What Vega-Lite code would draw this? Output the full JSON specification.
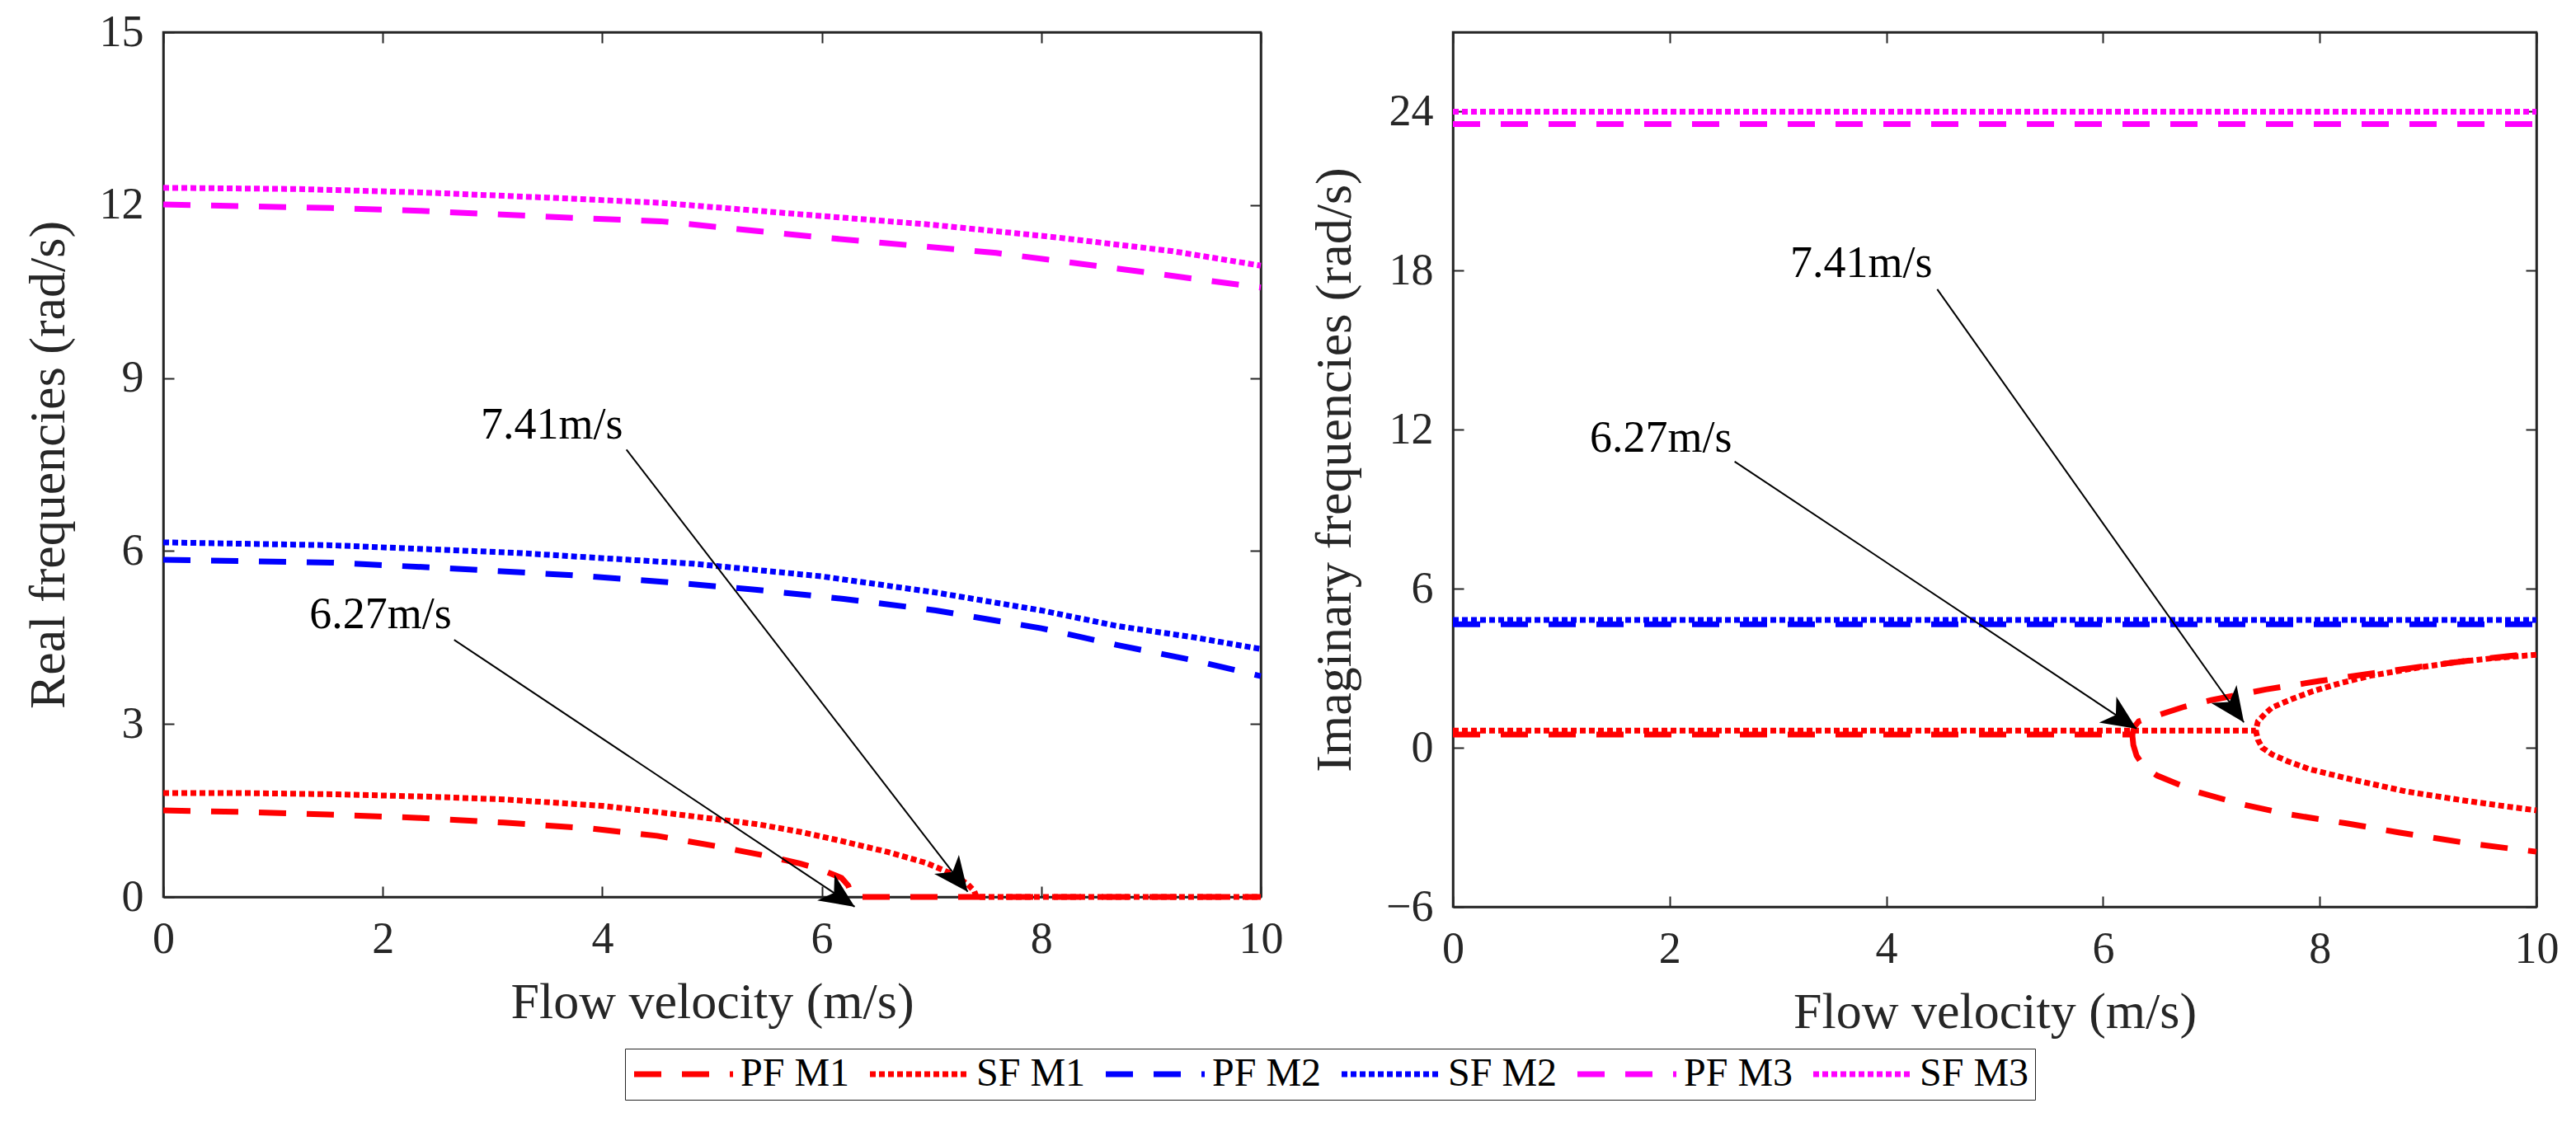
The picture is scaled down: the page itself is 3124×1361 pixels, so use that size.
{
  "$schema": "https://vega.github.io/schema/vega-lite/v6.json",
  "background": "white",
  "padding": {"left": 25, "top": 10, "right": 5, "bottom": 5},
  "spacing": 28,
  "datasets": {
    "real": [
      {"series": "PF M1", "branch": "a", "v": 0, "f": 1.5},
      {"series": "PF M1", "branch": "a", "v": 0.82, "f": 1.47},
      {"series": "PF M1", "branch": "a", "v": 1.5, "f": 1.43},
      {"series": "PF M1", "branch": "a", "v": 2.35, "f": 1.37},
      {"series": "PF M1", "branch": "a", "v": 3.1, "f": 1.29},
      {"series": "PF M1", "branch": "a", "v": 3.88, "f": 1.19},
      {"series": "PF M1", "branch": "a", "v": 4.5, "f": 1.06},
      {"series": "PF M1", "branch": "a", "v": 5.04, "f": 0.88},
      {"series": "PF M1", "branch": "a", "v": 5.5, "f": 0.71},
      {"series": "PF M1", "branch": "a", "v": 5.8, "f": 0.58},
      {"series": "PF M1", "branch": "a", "v": 6.0, "f": 0.47},
      {"series": "PF M1", "branch": "a", "v": 6.18, "f": 0.33},
      {"series": "PF M1", "branch": "a", "v": 6.24, "f": 0.2},
      {"series": "PF M1", "branch": "a", "v": 6.26, "f": 0.1},
      {"series": "PF M1", "branch": "a", "v": 6.27, "f": 0},
      {"series": "PF M1", "branch": "a", "v": 10, "f": 0},
      {"series": "SF M1", "branch": "a", "v": 0, "f": 1.8},
      {"series": "SF M1", "branch": "a", "v": 0.8, "f": 1.8},
      {"series": "SF M1", "branch": "a", "v": 1.59, "f": 1.78},
      {"series": "SF M1", "branch": "a", "v": 2.4, "f": 1.74},
      {"series": "SF M1", "branch": "a", "v": 3.12, "f": 1.69},
      {"series": "SF M1", "branch": "a", "v": 4.0, "f": 1.58},
      {"series": "SF M1", "branch": "a", "v": 4.65, "f": 1.44},
      {"series": "SF M1", "branch": "a", "v": 5.42, "f": 1.26},
      {"series": "SF M1", "branch": "a", "v": 5.8, "f": 1.13},
      {"series": "SF M1", "branch": "a", "v": 6.18, "f": 0.97},
      {"series": "SF M1", "branch": "a", "v": 6.6, "f": 0.78},
      {"series": "SF M1", "branch": "a", "v": 6.95, "f": 0.59},
      {"series": "SF M1", "branch": "a", "v": 7.2, "f": 0.39},
      {"series": "SF M1", "branch": "a", "v": 7.33, "f": 0.22},
      {"series": "SF M1", "branch": "a", "v": 7.39, "f": 0.1},
      {"series": "SF M1", "branch": "a", "v": 7.41, "f": 0},
      {"series": "SF M1", "branch": "a", "v": 10, "f": 0},
      {"series": "PF M2", "branch": "a", "v": 0, "f": 5.85},
      {"series": "PF M2", "branch": "a", "v": 1.53, "f": 5.8},
      {"series": "PF M2", "branch": "a", "v": 2.6, "f": 5.7},
      {"series": "PF M2", "branch": "a", "v": 3.73, "f": 5.58},
      {"series": "PF M2", "branch": "a", "v": 4.6, "f": 5.46},
      {"series": "PF M2", "branch": "a", "v": 5.39, "f": 5.33},
      {"series": "PF M2", "branch": "a", "v": 6.2, "f": 5.17},
      {"series": "PF M2", "branch": "a", "v": 7.04, "f": 4.97},
      {"series": "PF M2", "branch": "a", "v": 8.0, "f": 4.66},
      {"series": "PF M2", "branch": "a", "v": 8.69, "f": 4.37},
      {"series": "PF M2", "branch": "a", "v": 9.4, "f": 4.1},
      {"series": "PF M2", "branch": "a", "v": 10, "f": 3.83},
      {"series": "SF M2", "branch": "a", "v": 0, "f": 6.15},
      {"series": "SF M2", "branch": "a", "v": 1.53, "f": 6.1},
      {"series": "SF M2", "branch": "a", "v": 3.2, "f": 5.97},
      {"series": "SF M2", "branch": "a", "v": 4.83, "f": 5.78},
      {"series": "SF M2", "branch": "a", "v": 6.0, "f": 5.56},
      {"series": "SF M2", "branch": "a", "v": 7.04, "f": 5.28},
      {"series": "SF M2", "branch": "a", "v": 8.0, "f": 4.97},
      {"series": "SF M2", "branch": "a", "v": 8.69, "f": 4.7},
      {"series": "SF M2", "branch": "a", "v": 9.4, "f": 4.5},
      {"series": "SF M2", "branch": "a", "v": 10, "f": 4.3},
      {"series": "PF M3", "branch": "a", "v": 0, "f": 12.01},
      {"series": "PF M3", "branch": "a", "v": 1.53, "f": 11.95},
      {"series": "PF M3", "branch": "a", "v": 2.35, "f": 11.9},
      {"series": "PF M3", "branch": "a", "v": 3.73, "f": 11.78},
      {"series": "PF M3", "branch": "a", "v": 4.53, "f": 11.72},
      {"series": "PF M3", "branch": "a", "v": 5.94, "f": 11.45},
      {"series": "PF M3", "branch": "a", "v": 7.59, "f": 11.17},
      {"series": "PF M3", "branch": "a", "v": 8.69, "f": 10.9},
      {"series": "PF M3", "branch": "a", "v": 10, "f": 10.57},
      {"series": "SF M3", "branch": "a", "v": 0, "f": 12.3},
      {"series": "SF M3", "branch": "a", "v": 1.2, "f": 12.28},
      {"series": "SF M3", "branch": "a", "v": 2.35, "f": 12.22},
      {"series": "SF M3", "branch": "a", "v": 3.5, "f": 12.13},
      {"series": "SF M3", "branch": "a", "v": 4.53, "f": 12.04},
      {"series": "SF M3", "branch": "a", "v": 5.94, "f": 11.82},
      {"series": "SF M3", "branch": "a", "v": 7.0, "f": 11.66},
      {"series": "SF M3", "branch": "a", "v": 8.14, "f": 11.44},
      {"series": "SF M3", "branch": "a", "v": 9.2, "f": 11.2},
      {"series": "SF M3", "branch": "a", "v": 10, "f": 10.95}
    ],
    "imag": [
      {"series": "PF M1", "branch": "a", "v": 0, "f": 0.5},
      {"series": "PF M1", "branch": "a", "v": 6.27, "f": 0.5},
      {"series": "PF M1", "branch": "a", "v": 6.29, "f": 0.8},
      {"series": "PF M1", "branch": "a", "v": 6.33, "f": 1.0},
      {"series": "PF M1", "branch": "a", "v": 6.4, "f": 1.1},
      {"series": "PF M1", "branch": "a", "v": 6.5, "f": 1.22},
      {"series": "PF M1", "branch": "a", "v": 6.75, "f": 1.55},
      {"series": "PF M1", "branch": "a", "v": 7.0, "f": 1.8},
      {"series": "PF M1", "branch": "a", "v": 7.5, "f": 2.2},
      {"series": "PF M1", "branch": "a", "v": 8.0, "f": 2.52},
      {"series": "PF M1", "branch": "a", "v": 8.5, "f": 2.82},
      {"series": "PF M1", "branch": "a", "v": 9.0, "f": 3.1},
      {"series": "PF M1", "branch": "a", "v": 9.5, "f": 3.35},
      {"series": "PF M1", "branch": "a", "v": 10, "f": 3.57},
      {"series": "PF M1", "branch": "b", "v": 6.27, "f": 0.5},
      {"series": "PF M1", "branch": "b", "v": 6.28, "f": 0.1},
      {"series": "PF M1", "branch": "b", "v": 6.31, "f": -0.3},
      {"series": "PF M1", "branch": "b", "v": 6.38, "f": -0.71},
      {"series": "PF M1", "branch": "b", "v": 6.5, "f": -1.05},
      {"series": "PF M1", "branch": "b", "v": 6.86, "f": -1.65},
      {"series": "PF M1", "branch": "b", "v": 7.25, "f": -2.1},
      {"series": "PF M1", "branch": "b", "v": 7.7, "f": -2.5},
      {"series": "PF M1", "branch": "b", "v": 8.26, "f": -2.86},
      {"series": "PF M1", "branch": "b", "v": 8.74, "f": -3.2},
      {"series": "PF M1", "branch": "b", "v": 9.4, "f": -3.62},
      {"series": "PF M1", "branch": "b", "v": 10, "f": -3.92},
      {"series": "SF M1", "branch": "a", "v": 0, "f": 0.65},
      {"series": "SF M1", "branch": "a", "v": 7.41, "f": 0.65},
      {"series": "SF M1", "branch": "a", "v": 7.43, "f": 1.0},
      {"series": "SF M1", "branch": "a", "v": 7.5, "f": 1.3},
      {"series": "SF M1", "branch": "a", "v": 7.56, "f": 1.52},
      {"series": "SF M1", "branch": "a", "v": 7.75, "f": 1.85},
      {"series": "SF M1", "branch": "a", "v": 7.94, "f": 2.14},
      {"series": "SF M1", "branch": "a", "v": 8.2, "f": 2.45},
      {"series": "SF M1", "branch": "a", "v": 8.47, "f": 2.72},
      {"series": "SF M1", "branch": "a", "v": 8.9, "f": 3.02},
      {"series": "SF M1", "branch": "a", "v": 9.27, "f": 3.24},
      {"series": "SF M1", "branch": "a", "v": 9.6, "f": 3.38},
      {"series": "SF M1", "branch": "a", "v": 10, "f": 3.51},
      {"series": "SF M1", "branch": "b", "v": 7.41, "f": 0.65},
      {"series": "SF M1", "branch": "b", "v": 7.43, "f": 0.3},
      {"series": "SF M1", "branch": "b", "v": 7.47, "f": 0.0},
      {"series": "SF M1", "branch": "b", "v": 7.56, "f": -0.25},
      {"series": "SF M1", "branch": "b", "v": 7.7, "f": -0.5},
      {"series": "SF M1", "branch": "b", "v": 7.9, "f": -0.8},
      {"series": "SF M1", "branch": "b", "v": 8.3, "f": -1.2},
      {"series": "SF M1", "branch": "b", "v": 8.8, "f": -1.65},
      {"series": "SF M1", "branch": "b", "v": 9.3, "f": -1.97},
      {"series": "SF M1", "branch": "b", "v": 9.7, "f": -2.2},
      {"series": "SF M1", "branch": "b", "v": 10, "f": -2.36},
      {"series": "PF M2", "branch": "a", "v": 0, "f": 4.66},
      {"series": "PF M2", "branch": "a", "v": 10, "f": 4.66},
      {"series": "SF M2", "branch": "a", "v": 0, "f": 4.82},
      {"series": "SF M2", "branch": "a", "v": 10, "f": 4.82},
      {"series": "PF M3", "branch": "a", "v": 0, "f": 23.53},
      {"series": "PF M3", "branch": "a", "v": 10, "f": 23.53},
      {"series": "SF M3", "branch": "a", "v": 0, "f": 24.0},
      {"series": "SF M3", "branch": "a", "v": 10, "f": 24.0}
    ],
    "realNotes": [
      {"label": "7.41m/s", "tx": 3.54, "ty": 8.18, "x": 4.22, "y": 7.76, "x2": 7.33, "y2": 0.09},
      {"label": "6.27m/s", "tx": 1.98, "ty": 4.89, "x": 2.65, "y": 4.46, "x2": 6.3, "y2": -0.17}
    ],
    "imagNotes": [
      {"label": "7.41m/s", "tx": 3.77, "ty": 18.25, "x": 4.47, "y": 17.3, "x2": 7.3, "y2": 0.96},
      {"label": "6.27m/s", "tx": 1.92, "ty": 11.66, "x": 2.6, "y": 10.8, "x2": 6.31, "y2": 0.72}
    ]
  },
  "hconcat": [
    {
      "width": 1331,
      "height": 1049,
      "layer": [
        {
          "layer": [
            {
              "data": {"name": "real"},
              "mark": {"type": "line", "strokeWidth": 7, "strokeCap": "butt"},
              "encoding": {
                "x": {"field": "v", "type": "quantitative", "title": "Flow velocity (m/s)",
                      "scale": {"domain": [0, 10], "nice": false},
                      "axis": {"values": [0, 2, 4, 6, 8, 10], "format": "d"}},
                "y": {"field": "f", "type": "quantitative", "title": "Real frequencies (rad/s)",
                      "scale": {"domain": [0, 15], "nice": false, "zero": false},
                      "axis": {"values": [0, 3, 6, 9, 12, 15], "format": "d"}},
                "color": {"field": "series", "type": "nominal", "title": null,
                          "scale": {"domain": ["PF M1", "SF M1", "PF M2", "SF M2", "PF M3", "SF M3"],
                                    "range": ["#ff0000", "#ff0000", "#0000ff", "#0000ff", "#ff00ff", "#ff00ff"]}},
                "strokeDash": {"field": "series", "type": "nominal", "title": null,
                               "scale": {"domain": ["PF M1", "SF M1", "PF M2", "SF M2", "PF M3", "SF M3"],
                                         "range": [[33, 25], [7, 4], [33, 25], [7, 4], [33, 25], [7, 4]]}},
                "detail": {"field": "branch"},
                "order": {"field": "v", "type": "quantitative"}
              }
            },
            {
              "data": {"name": "realNotes"},
              "mark": {"type": "rule", "strokeWidth": 2, "color": "#000000"},
              "encoding": {
                "x": {"field": "x", "type": "quantitative"},
                "y": {"field": "y", "type": "quantitative"},
                "x2": {"field": "x2"},
                "y2": {"field": "y2"}
              }
            },
            {
              "data": {"name": "realNotes"},
              "transform": [{"filter": "datum.label == '7.41m/s'"}],
              "mark": {"type": "point", "shape": "M0,0 L-1,-0.45 L-0.72,0 L-1,0.45 Z", "size": 7056, "angle": 52.3, "filled": true, "color": "#000000", "opacity": 1},
              "encoding": {
                "x": {"field": "x2", "type": "quantitative"},
                "y": {"field": "y2", "type": "quantitative"}
              }
            },
            {
              "data": {"name": "realNotes"},
              "transform": [{"filter": "datum.label == '6.27m/s'"}],
              "mark": {"type": "point", "shape": "M0,0 L-1,-0.45 L-0.72,0 L-1,0.45 Z", "size": 7056, "angle": 33.7, "filled": true, "color": "#000000", "opacity": 1},
              "encoding": {
                "x": {"field": "x2", "type": "quantitative"},
                "y": {"field": "y2", "type": "quantitative"}
              }
            },
            {
              "data": {"name": "realNotes"},
              "mark": {"type": "text", "font": "Liberation Serif", "fontSize": 54, "align": "center", "baseline": "middle", "color": "#000000"},
              "encoding": {
                "x": {"field": "tx", "type": "quantitative"},
                "y": {"field": "ty", "type": "quantitative"},
                "text": {"field": "label"}
              }
            }
          ]
        },
        {
          "data": {"name": "realNotes"},
          "mark": {"type": "point", "opacity": 0},
          "encoding": {
            "x": {"field": "tx", "type": "quantitative",
                  "axis": {"orient": "top", "labels": false, "title": null, "values": [0, 2, 4, 6, 8, 10], "labelPadding": 0, "minExtent": 0, "maxExtent": 0}},
            "y": {"field": "ty", "type": "quantitative",
                  "axis": {"orient": "right", "labels": false, "title": null, "values": [0, 3, 6, 9, 12, 15], "labelPadding": 0, "minExtent": 0, "maxExtent": 0}}
          }
        }
      ],
      "resolve": {"axis": {"x": "independent", "y": "independent"}}
    },
    {
      "width": 1314,
      "height": 1061,
      "layer": [
        {
          "layer": [
            {
              "data": {"name": "imag"},
              "mark": {"type": "line", "strokeWidth": 7, "strokeCap": "butt"},
              "encoding": {
                "x": {"field": "v", "type": "quantitative", "title": "Flow velocity (m/s)",
                      "scale": {"domain": [0, 10], "nice": false},
                      "axis": {"values": [0, 2, 4, 6, 8, 10], "format": "d"}},
                "y": {"field": "f", "type": "quantitative", "title": "Imaginary frequencies (rad/s)",
                      "scale": {"domain": [-6, 27], "nice": false, "zero": false},
                      "axis": {"values": [-6, 0, 6, 12, 18, 24], "format": "d"}},
                "color": {"field": "series", "type": "nominal", "title": null},
                "strokeDash": {"field": "series", "type": "nominal", "title": null},
                "detail": {"field": "branch"},
                "order": {"field": "v", "type": "quantitative"}
              }
            },
            {
              "data": {"name": "imagNotes"},
              "mark": {"type": "rule", "strokeWidth": 2, "color": "#000000"},
              "encoding": {
                "x": {"field": "x", "type": "quantitative"},
                "y": {"field": "y", "type": "quantitative"},
                "x2": {"field": "x2"},
                "y2": {"field": "y2"}
              }
            },
            {
              "data": {"name": "imagNotes"},
              "transform": [{"filter": "datum.label == '7.41m/s'"}],
              "mark": {"type": "point", "shape": "M0,0 L-1,-0.45 L-0.72,0 L-1,0.45 Z", "size": 7056, "angle": 54.7, "filled": true, "color": "#000000", "opacity": 1},
              "encoding": {
                "x": {"field": "x2", "type": "quantitative"},
                "y": {"field": "y2", "type": "quantitative"}
              }
            },
            {
              "data": {"name": "imagNotes"},
              "transform": [{"filter": "datum.label == '6.27m/s'"}],
              "mark": {"type": "point", "shape": "M0,0 L-1,-0.45 L-0.72,0 L-1,0.45 Z", "size": 7056, "angle": 33.6, "filled": true, "color": "#000000", "opacity": 1},
              "encoding": {
                "x": {"field": "x2", "type": "quantitative"},
                "y": {"field": "y2", "type": "quantitative"}
              }
            },
            {
              "data": {"name": "imagNotes"},
              "mark": {"type": "text", "font": "Liberation Serif", "fontSize": 54, "align": "center", "baseline": "middle", "color": "#000000"},
              "encoding": {
                "x": {"field": "tx", "type": "quantitative"},
                "y": {"field": "ty", "type": "quantitative"},
                "text": {"field": "label"}
              }
            }
          ]
        },
        {
          "data": {"name": "imagNotes"},
          "mark": {"type": "point", "opacity": 0},
          "encoding": {
            "x": {"field": "tx", "type": "quantitative",
                  "axis": {"orient": "top", "labels": false, "title": null, "values": [0, 2, 4, 6, 8, 10], "labelPadding": 0, "minExtent": 0, "maxExtent": 0}},
            "y": {"field": "ty", "type": "quantitative",
                  "axis": {"orient": "right", "labels": false, "title": null, "values": [-6, 0, 6, 12, 18, 24], "labelPadding": 0, "minExtent": 0, "maxExtent": 0}}
          }
        }
      ],
      "resolve": {"axis": {"x": "independent", "y": "independent"}}
    }
  ],
  "config": {
    "font": "Liberation Serif",
    "view": {"stroke": "#262626", "strokeWidth": 2.5},
    "axis": {
      "grid": false,
      "domainColor": "#262626",
      "domainWidth": 2.5,
      "tickColor": "#262626",
      "tickWidth": 2,
      "tickSize": -13,
      "labelFont": "Liberation Serif",
      "labelFontSize": 54,
      "labelColor": "#262626",
      "labelFlush": false,
      "labelOverlap": false,
      "titleFont": "Liberation Serif",
      "titleFontSize": 62,
      "titleFontWeight": "normal",
      "titleColor": "#262626"
    },
    "axisX": {"labelPadding": 37, "titlePadding": 19},
    "axisY": {"labelPadding": 37, "titlePadding": 30},
    "legend": {
      "orient": "none",
      "legendX": 560,
      "legendY": 1233,
      "direction": "horizontal",
      "columns": 6,
      "symbolType": "M-1,0 L5,0",
      "symbolSize": 1600,
      "symbolStrokeWidth": 7,
      "labelFont": "Liberation Serif",
      "labelFontSize": 48,
      "labelColor": "#000000",
      "labelOffset": 85,
      "columnPadding": 10,
      "padding": 7,
      "strokeColor": "#262626",
      "fillColor": "#ffffff"
    }
  }
}
